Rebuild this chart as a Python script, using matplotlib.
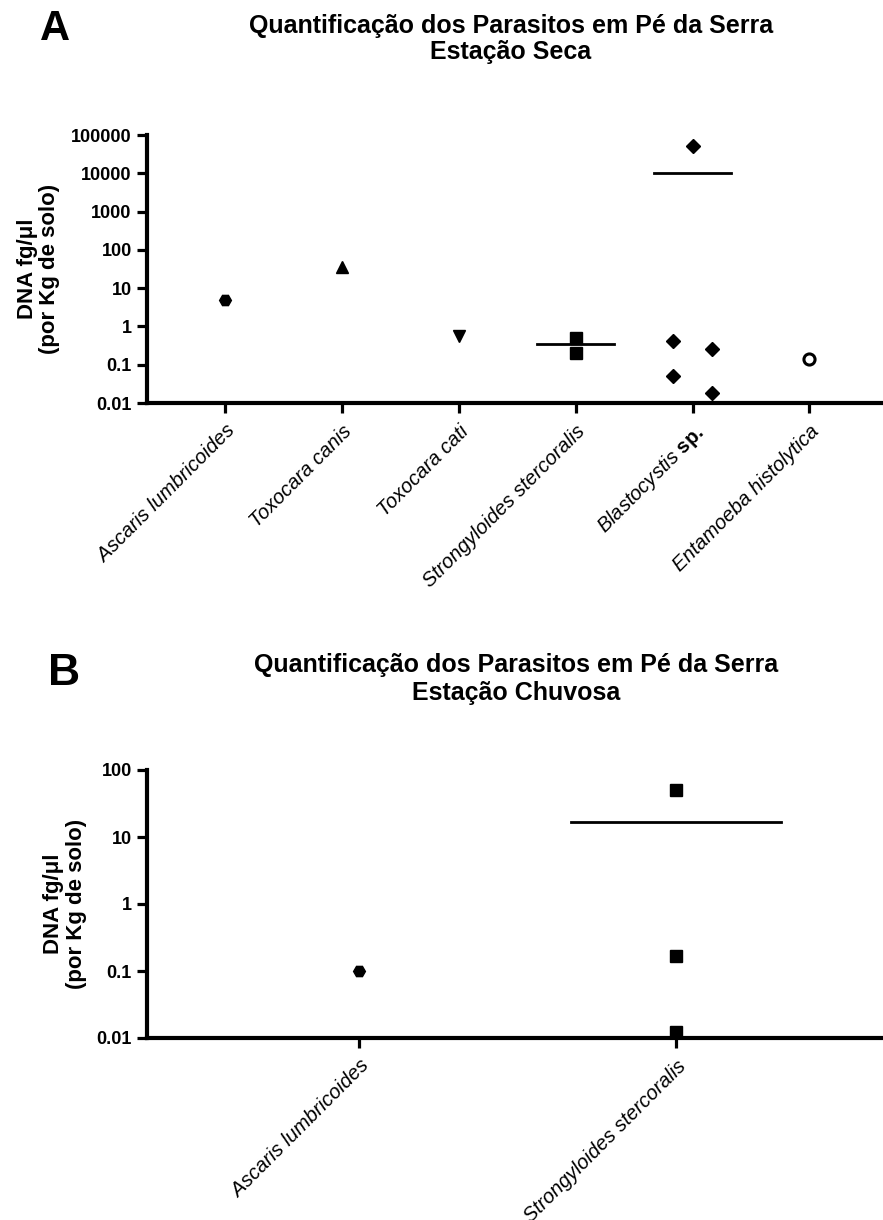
import matplotlib
matplotlib.use('Agg')
import matplotlib.pyplot as plt
import numpy as np

plt.rcParams['font.family'] = ['Liberation Sans', 'DejaVu Sans']
plt.rcParams['mathtext.fontset'] = 'custom'
plt.rcParams['mathtext.rm'] = 'Liberation Sans'
plt.rcParams['mathtext.it'] = 'Liberation Sans:italic'
plt.rcParams['mathtext.bf'] = 'Liberation Sans:bold'

# painel A - estacao seca
seca_labels = ['Ascaris lumbricoides', 'Toxocara canis', 'Toxocara cati',
               'Strongyloides stercoralis', r'$\it{Blastocystis}$ $\bf{sp.}$',
               'Entamoeba histolytica']
seca_values = [[5.0],
               [36.0],
               [0.55],
               [0.5, 0.2],
               [51000, 0.42, 0.05, 0.26, 0.018],
               [0.14]]
seca_markers = ['H', '^', 'v', 's', 'D', 'o']
seca_with_mean = [False, False, False, True, True, False]

# painel B - estacao chuvosa
chuva_labels = ['Ascaris lumbricoides', 'Strongyloides stercoralis']
chuva_values = [[0.1],
                [50.0, 0.166, 0.0123]]
chuva_markers = ['H', 's']
chuva_with_mean = [False, True]

# espalhamento horizontal dos pontos (estilo GraphPad)
jitter_seca = [[0], [0], [0], [0, 0], [0, -0.165, -0.165, 0.165, 0.165], [0]]
jitter_chuva = [[0], [0, 0, 0]]

msizes = {'H': 8.5, '^': 9, 'v': 9, 's': 8, 'D': 7, 'o': 8}


def draw_panel(ax, labels, values, markers, with_mean, jitter, yticks, xlim):
    for i, vals in enumerate(values):
        xs = np.array(jitter[i]) + i
        m = markers[i]
        if m == 'o':
            ax.plot(xs, vals, ls='none', marker=m, ms=msizes[m], mfc='white',
                    mec='black', mew=2.2, clip_on=False, zorder=3)
        else:
            ax.plot(xs, vals, ls='none', marker=m, ms=msizes[m], color='black',
                    clip_on=False, zorder=3)
        if with_mean[i]:
            ax.plot([i - 0.33, i + 0.33], [np.mean(vals)] * 2, color='black', lw=2)
    ax.set_yscale('log')
    ax.set_ylim(yticks[0], yticks[-1])
    ax.set_xlim(*xlim)
    ax.set_yticks(yticks)
    ax.set_yticklabels([('%g' % t) if t < 1 else str(int(t)) for t in yticks],
                       fontsize=13, fontweight='bold')
    ax.minorticks_off()
    ax.set_xticks(range(len(labels)))
    ax.set_xticklabels(labels, rotation=45, ha='right', va='top',
                       rotation_mode='anchor', fontsize=14.5, style='italic')
    for s in ['top', 'right']:
        ax.spines[s].set_visible(False)
    for s in ['left', 'bottom']:
        ax.spines[s].set_linewidth(3)
    ax.tick_params(axis='both', direction='out', length=7.5, width=2.3, pad=3.5)
    ax.tick_params(axis='x', pad=6)
    ax.set_ylabel('DNA fg/\u03bcl\n(por Kg de solo)', fontsize=16,
                  fontweight='bold', linespacing=1.1)


fig = plt.figure(figsize=(8.83, 12.2), dpi=100)
W, H = 883.0, 1220.0

axA = fig.add_axes([147 / W, 1 - 403 / H, 736 / W, 268 / H])
draw_panel(axA, seca_labels, seca_values, seca_markers, seca_with_mean,
           jitter_seca, [0.01, 0.1, 1, 10, 100, 1000, 10000, 100000],
           (-0.672, 5.63))
axA.yaxis.set_label_coords(-0.118, 0.5)

axB = fig.add_axes([147 / W, 1 - 1038 / H, 736 / W, 268 / H])
draw_panel(axB, chuva_labels, chuva_values, chuva_markers, chuva_with_mean,
           jitter_chuva, [0.01, 0.1, 1, 10, 100], (-0.669, 1.653))
axB.yaxis.set_label_coords(-0.0815, 0.5)

fig.text(40 / W, 1 - 40 / H, 'A', fontsize=30, fontweight='bold', va='baseline')
fig.text(48 / W, 1 - 685 / H, 'B', fontsize=32, fontweight='bold', va='baseline')

fig.text(511 / W, 1 - 33 / H, 'Quantificação dos Parasitos em Pé da Serra',
         fontsize=18, fontweight='bold', ha='center', va='baseline')
fig.text(511 / W, 1 - 59 / H, 'Estação Seca',
         fontsize=18, fontweight='bold', ha='center', va='baseline')
fig.text(516 / W, 1 - 672 / H, 'Quantificação dos Parasitos em Pé da Serra',
         fontsize=18, fontweight='bold', ha='center', va='baseline')
fig.text(516 / W, 1 - 700 / H, 'Estação Chuvosa',
         fontsize=18, fontweight='bold', ha='center', va='baseline')

fig.savefig('out.png', dpi=100, facecolor='white')
